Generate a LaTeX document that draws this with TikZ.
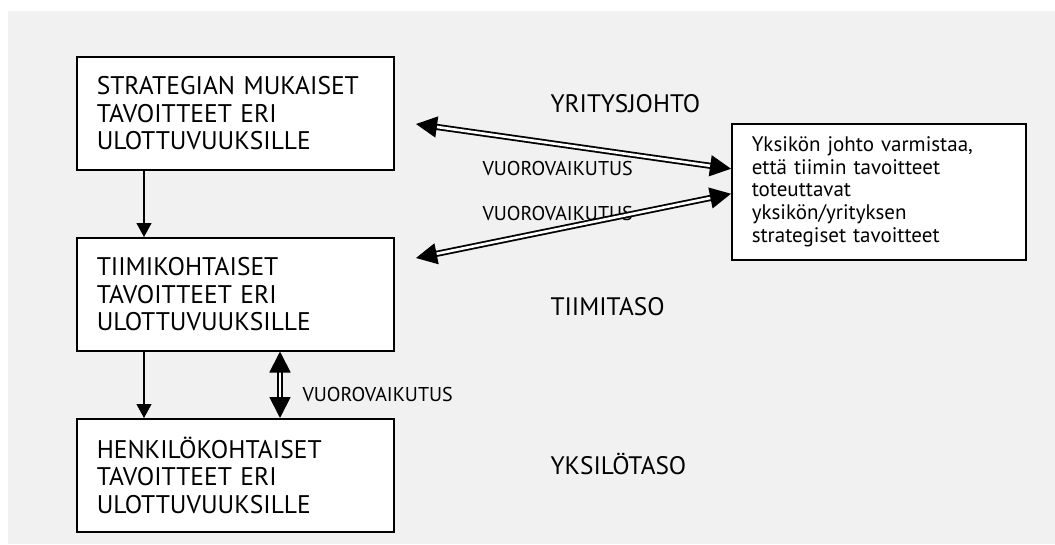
\documentclass[tikz,border=0pt]{standalone}
\usepackage{fontspec}
\setmainfont{PT Sans}
\usepackage{tikz}
\usepackage{xcolor}
\usetikzlibrary{arrows.meta, positioning, calc}
\definecolor{panelgray}{HTML}{F1F1F1}

\begin{document}
\begin{tikzpicture}[x=1pt, y=-1pt,
    box/.style={draw, line width=1.5pt, fill=white, rectangle, anchor=north west,
        minimum width=317pt, minimum height=113pt, inner xsep=20pt,
        text width=277pt, align=left, font=\fontsize{25.5}{27.5}\selectfont},
    lvl/.style={anchor=base west, font=\fontsize{25.3}{30}\selectfont},
    vlbl/.style={anchor=base west, font=\fontsize{20}{22}\selectfont},
    onearrow/.style={line width=1.2pt, -{Triangle[length=14pt, width=15pt]}},
    dblarrow/.style={line width=1.8pt, double=white, double distance=2.6pt,
        {Triangle[length=21pt, width=21pt]}-{Triangle[length=21pt, width=21pt]}}]
\useasboundingbox (0,0) rectangle (1055,544);
\fill[white] (0,0) rectangle (1055,544);
\fill[panelgray] (8,11) rectangle (1055,544);

% Left column: three levels of goals
\node[box] (strat) at (76,56) {STRATEGIAN MUKAISET\\TAVOITTEET ERI\\ULOTTUVUUKSILLE};
\node[box] (tiimi) at (76,237) {TIIMIKOHTAISET\\TAVOITTEET ERI\\ULOTTUVUUKSILLE};
\node[box] (henk) at (76,418) {HENKILÖKOHTAISET\\TAVOITTEET ERI\\ULOTTUVUUKSILLE};

% Right box
\node[draw, line width=1.5pt, fill=white, anchor=north west, minimum width=294pt,
    minimum height=136pt, inner xsep=20pt, text width=254pt, align=left,
    font=\fontsize{21}{22.7}\selectfont] (yksikko) at (731,123)
    {Yksikön johto varmistaa,\\että tiimin tavoitteet\\toteuttavat\\yksikön/yrityksen\\strategiset tavoitteet};

% Level labels
\node[lvl] (yj) at (547,112) {YRITYSJOHTO};
\node[lvl] (tt) at (547,315) {TIIMITASO};
\node[lvl] (yt) at (547,474) {YKSILÖTASO};

% Interaction labels
\node[vlbl] (vv1) at (479,175) {VUOROVAIKUTUS};
\node[vlbl] (vv2) at (479,220) {VUOROVAIKUTUS};
\node[vlbl] (vv3) at (299,401) {VUOROVAIKUTUS};

% Top-down arrows
\draw[onearrow] ([xshift=68pt]strat.south west) -- ([xshift=68pt]tiimi.north west);
\draw[onearrow] ([xshift=68pt]tiimi.south west) -- ([xshift=68pt]henk.north west);

% Interaction arrows
\coordinate (s1) at (416,124);
\coordinate (t1) at (416,258);
\draw[dblarrow] (s1) -- ([yshift=23pt]yksikko.west);
\draw[dblarrow] (t1) -- ([yshift=-2pt]yksikko.west);
\draw[dblarrow] ([xshift=204pt]tiimi.south west) -- ([xshift=204pt]henk.north west);
\end{tikzpicture}
\end{document}
